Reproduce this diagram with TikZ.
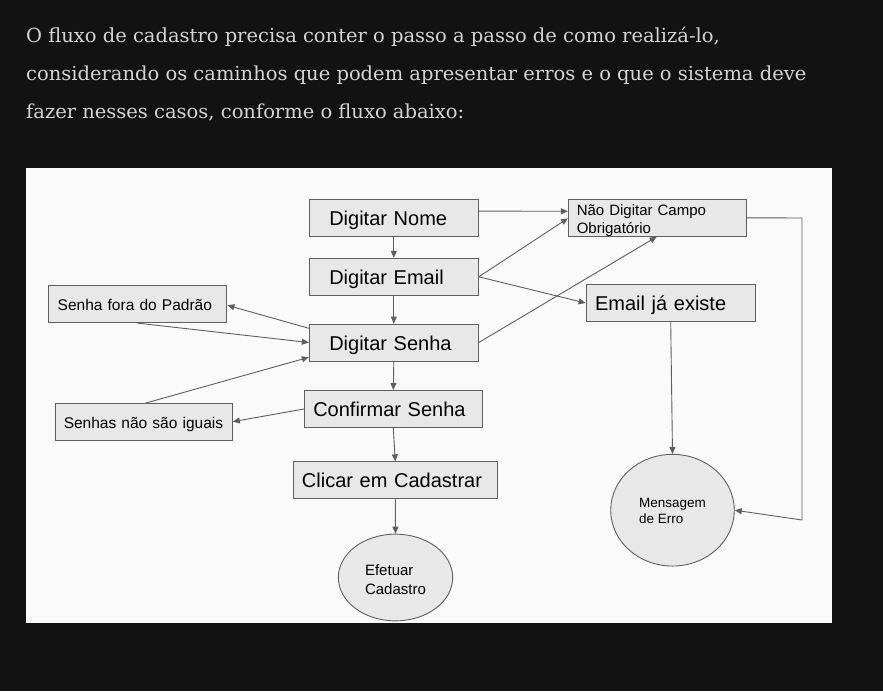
\documentclass[tikz,border=0pt]{standalone}
\usepackage{fontspec}
\setmainfont{Liberation Serif}
\newfontfamily\arialf{Liberation Sans}
\newfontfamily\titlef{DejaVu Serif}[FakeStretch=1.01]
\usetikzlibrary{arrows.meta,calc,shapes.geometric}
\definecolor{pagebg}{HTML}{121212}
\definecolor{panel}{HTML}{FAFAFA}
\definecolor{boxfill}{HTML}{E8E8E8}
\definecolor{edge}{HTML}{5F5F5F}
\definecolor{titletext}{HTML}{D4D4D4}
\tikzset{
  bigbox/.style={draw=edge, line width=0.9pt, fill=boxfill, rectangle, minimum height=37pt,
    inner ysep=0pt, align=left, text height=15pt, text depth=0pt,
    font=\arialf\fontsize{20}{24}\selectfont, text=black},
  smallbox/.style={bigbox, text height=12pt, font=\arialf\fontsize{15.5}{18}\selectfont},
  oval/.style={draw=edge, line width=0.9pt, fill=boxfill, ellipse, inner sep=0pt, align=left, text=black},
  conn/.style={draw=edge, line width=0.9pt, -{Triangle[length=7pt,width=6pt]}},
  titleline/.style={anchor=base west, inner sep=0pt, text=titletext, font=\titlef\fontsize{19.3}{24}\selectfont}
}
\begin{document}
\begin{tikzpicture}[x=1pt,y=-1pt]
\useasboundingbox (0,0) rectangle (883,691);
\fill[pagebg] (0,0) rectangle (883,691);
\fill[panel] (26,168) rectangle (832,623);
\node[titleline] (t1) at (26,42.3) {O fluxo de cadastro precisa conter o passo a passo de como realizá-lo,};
\node[titleline] (t2) at (26,80.5) {considerando os caminhos que podem apresentar erros e o que o sistema deve};
\node[titleline] (t3) at (26,118.8) {fazer nesses casos, conforme o fluxo abaixo:};

% main column
\node[bigbox, inner xsep=20pt, text width=129pt] (nome) at (393.8,217.7) {Digitar Nome};
\node[bigbox, inner xsep=20pt, text width=129pt] (email) at (393.8,276.8) {Digitar Email};
\node[bigbox, inner xsep=20pt, text width=129pt] (senha) at (393.8,342.5) {Digitar Senha};
\node[bigbox, inner xsep=9pt, text width=160pt] (confirmar) at (393.3,409) {Confirmar Senha};
\node[bigbox, inner xsep=9pt, text width=186.7pt] (clicar) at (395.3,480.3) {Clicar em Cadastrar};
\node[oval, minimum width=114.4pt, minimum height=86.7pt, text height=34pt, text depth=0pt,
  font=\arialf\fontsize{15}{19}\selectfont] (efetuar) at (395.5,577.5) {Efetuar\\Cadastro};

% left error boxes
\node[smallbox, inner xsep=9.4pt, text width=159.2pt] (fora) at (137.3,304.2) {Senha fora do Padrão};
\node[smallbox, inner xsep=8.7pt, text width=159.9pt] (iguais) at (143.7,422.2) {Senhas não são iguais};

% right side
\node[smallbox, inner xsep=8.4pt, text width=160.9pt, text height=12.4pt, text depth=18pt,
  font=\arialf\fontsize{15}{18}\selectfont] (campo) at (657.2,217.8) {Não Digitar Campo\\Obrigatório};
\node[bigbox, inner xsep=9pt, text width=151.3pt] (existe) at (670.7,303) {Email já existe};
\node[oval, minimum width=123.6pt, minimum height=111.7pt, text height=27.5pt, text depth=0pt,
  font=\arialf\fontsize{13.5}{16.3}\selectfont] (erro) at (672.5,510.2) {Mensagem\\de Erro};

\coordinate (c1) at (802,218);
\coordinate (c2) at (802,520);

% connectors
\draw[conn] (nome.south) -- (email.north);
\draw[conn] (email.south) -- (senha.north);
\draw[conn] (senha.south) -- (confirmar.north);
\draw[conn] (confirmar.south) -- (clicar.north);
\draw[conn] (clicar.south) -- (efetuar.north);
\draw[conn] ($(nome.east)+(0,-6.6)$) -- ($(campo.west)+(0,-6.5)$);
\draw[conn] (email.east) -- ($(campo.west)+(0,0.5)$);
\draw[conn] (email.east) -- (existe.west);
\draw[conn] (senha.east) -- ($(campo.south)+(-0.5,0)$);
\draw[conn] (campo.east) -- (c1) -- (c2) -- (erro.east);
\draw[conn] (existe.south) -- (erro.north);
\draw[conn] ($(senha.west)+(0,-14.2)$) -- ($(fora.east)+(0.7,1.1)$);
\draw[conn] ($(fora.south)+(0.4,0)$) -- (senha.west);
\draw[conn] ($(iguais.north)+(1.3,0)$) -- ($(senha.west)+(0,14.8)$);
\draw[conn] (confirmar.west) -- ($(iguais.east)+(0,-0.5)$);
\end{tikzpicture}
\end{document}
